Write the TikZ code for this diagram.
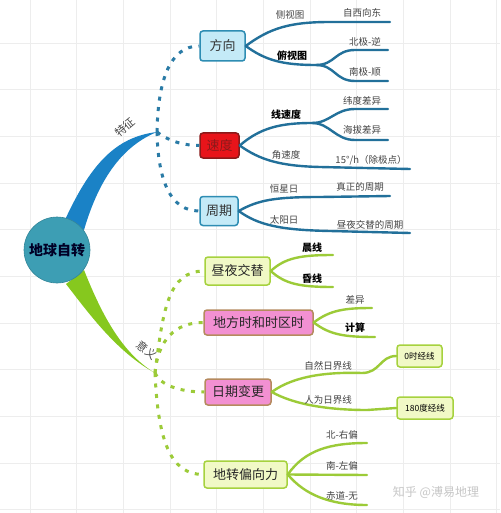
\documentclass[tikz,border=0pt]{standalone}
\usepackage{fontspec}
\setmainfont{Noto Sans CJK SC}
\definecolor{gridc}{HTML}{EDEDED}
\definecolor{bline}{HTML}{22709A}
\definecolor{bdot}{HTML}{2A7BA6}
\definecolor{bbranch}{HTML}{1A82C6}
\definecolor{gline}{HTML}{9CCB38}
\definecolor{gbranch}{HTML}{86C81E}
\definecolor{bfill}{HTML}{C4EAF7}
\definecolor{bdraw}{HTML}{2E8DB3}
\definecolor{gfill}{HTML}{F1F9C6}
\definecolor{gdraw}{HTML}{A6D23E}
\definecolor{pfill}{HTML}{F290D2}
\definecolor{pdraw}{HTML}{B58A5E}
\definecolor{rfill}{HTML}{E8141A}
\definecolor{rdraw}{HTML}{8A1A1A}
\definecolor{ctext}{HTML}{444444}
\definecolor{circf}{HTML}{3D9EB4}
\tikzset{
  gridline/.style={draw=gridc, line width=0.8pt},
  boxbase/.style={rounded corners=3pt, line width=1.5pt, inner sep=0pt, font=\fontsize{13}{13}\selectfont},
  bluebox/.style={boxbase, fill=bfill, draw=bdraw, text=black!80},
  greenbox/.style={boxbase, fill=gfill, draw=gdraw, text=black!85},
  pinkbox/.style={boxbase, fill=pfill, draw=pdraw, text=black!85},
  redbox/.style={boxbase, fill=rfill, draw=rdraw, text=rdraw},
  smallbox/.style={rounded corners=3pt, line width=1.5pt, inner sep=0pt, fill=gfill, draw=gdraw, font=\fontsize{8.5}{8.5}\selectfont},
  lbl/.style={text=ctext, inner sep=0pt, font=\fontsize{9.5}{9.5}\selectfont},
  blbl/.style={text=black, inner sep=0pt, font=\fontsize{10}{10}\selectfont\bfseries},
  bcurve/.style={draw=bline, line width=2.4pt, line cap=round},
  gcurve/.style={draw=gline, line width=2.4pt, line cap=round},
  bdots/.style={draw=bdot, line width=3pt, dash pattern=on 4pt off 6.5pt},
  gdots/.style={draw=gline, line width=3pt, dash pattern=on 4pt off 6.5pt},
}
\begin{document}
\begin{tikzpicture}[x=1pt,y=-1pt]
\useasboundingbox (0,0) rectangle (500,513);
\fill[white] (0,0) rectangle (500,513);
% grid
\foreach \i in {0,...,10} {
  \draw[gridline] ({30+46.67*\i},0) -- ({30+46.67*\i},513);
  \draw[gridline] (0,{43+46.67*\i}) -- (500,{43+46.67*\i});
}
% apex coordinates
\coordinate (tz) at (157,132);
\coordinate (yy) at (155,373);
% main branches
\fill[bbranch] (64,222) .. controls (90,165) and (115,137) .. (tz) .. controls (125,145) and (100,175) .. (84,230) -- cycle;
\fill[gbranch] (84,270) .. controls (100,310) and (120,352) .. (yy) .. controls (117,352) and (90,315) .. (66,284) -- cycle;
% center
\node[circle, minimum size=66pt, fill=circf, draw=circf!85!black, line width=0.6pt, font=\fontsize{14}{14}\selectfont\bfseries, text=black!85!blue] (root) at (57,250) {地球自转};
\node[text=ctext, inner sep=0pt, font=\fontsize{11}{11}\selectfont, rotate=40] (tzl) at (125,127) {特征};
\node[text=ctext, inner sep=0pt, font=\fontsize{11}{11}\selectfont, rotate=-40] (yyl) at (147,350) {意义};

% blue boxes
\node[bluebox, minimum width=45pt, minimum height=30pt] (fx) at (222.5,46) {方向};
\node[redbox, minimum width=39pt, minimum height=25pt] (sd) at (219.5,145.5) {速度};
\node[bluebox, minimum width=38pt, minimum height=29pt] (zq) at (219,211) {周期};
\draw[bdots] (tz) .. controls (158,80) and (170,46) .. (fx.west);
\draw[bdots] (tz) .. controls (170,142) and (185,145.5) .. (sd.west);
\draw[bdots] (tz) .. controls (158,180) and (170,211) .. (zq.west);

% green boxes
\node[greenbox, minimum width=65pt, minimum height=28pt] (zy) at (237.5,271) {昼夜交替};
\node[pinkbox, minimum width=109pt, minimum height=25pt] (df) at (258.5,322.5) {地方时和时区时};
\node[pinkbox, minimum width=66pt, minimum height=26pt] (rq) at (238,392) {日期变更};
\node[greenbox, minimum width=83pt, minimum height=27pt] (dz) at (245.5,474.5) {地转偏向力};
\draw[gdots] (yy) .. controls (163,310) and (168,271) .. (zy.west);
\draw[gdots] (yy) .. controls (158,340) and (175,322.5) .. (df.west);
\draw[gdots] (yy) .. controls (160,385) and (180,392) .. (rq.west);
\draw[gdots] (yy) .. controls (158,440) and (170,474.5) .. (dz.west);

% 方向 leaves
\coordinate (e1) at (390,22);
\coordinate (s1) at (316,65);
\coordinate (e2) at (388,50);
\coordinate (e3) at (388,81);
\draw[bcurve] (fx.east) .. controls (270,28) and (290,22) .. (330,22) -- (e1);
\draw[bcurve] (fx.east) .. controls (265,60) and (282,65) .. (s1);
\draw[bcurve] (s1) .. controls (335,65) and (335,50) .. (355,50) -- (e2);
\draw[bcurve] (s1) .. controls (335,65) and (335,81) .. (355,81) -- (e3);
\node[lbl] (l1) at (290,15) {侧视图};
\node[lbl] (l2) at (362,13) {自西向东};
\node[blbl] (l3) at (292,56) {俯视图};
\node[lbl] (l4) at (365,42) {北极-逆};
\node[lbl] (l5) at (365,72) {南极-顺};

% 速度 leaves
\coordinate (s2) at (312,123);
\coordinate (e4) at (388,109);
\coordinate (e5) at (388,140);
\coordinate (e6) at (410,169);
\draw[bcurve] (sd.east) .. controls (260,128) and (280,123) .. (s2);
\draw[bcurve] (s2) .. controls (330,123) and (335,109) .. (355,109) -- (e4);
\draw[bcurve] (s2) .. controls (330,123) and (335,140) .. (355,140) -- (e5);
\draw[bcurve] (sd.east) .. controls (260,160) and (280,166) .. (320,167) -- (e6);
\node[blbl] (l6) at (286,115) {线速度};
\node[lbl] (l7) at (362,101) {纬度差异};
\node[lbl] (l8) at (362,130) {海拔差异};
\node[lbl] (l9) at (286,155) {角速度};
\node[lbl] (l10) at (371,160) {15°/h（除极点）};

% 周期 leaves
\coordinate (e7) at (390,196);
\coordinate (e8) at (410,233);
\draw[bcurve] (zq.east) .. controls (258,200) and (275,197) .. (320,197) -- (e7);
\draw[bcurve] (zq.east) .. controls (258,225) and (280,230) .. (330,231) -- (e8);
\node[lbl] (l11) at (284,189) {恒星日};
\node[lbl] (l12) at (360,187) {真正的周期};
\node[lbl] (l13) at (284,220) {太阳日};
\node[lbl] (l14) at (370,225) {昼夜交替的周期};

% 昼夜交替 leaves
\coordinate (e9) at (333,255);
\coordinate (e10) at (333,287);
\draw[gcurve] (zy.east) .. controls (285,258) and (300,255) .. (e9);
\draw[gcurve] (zy.east) .. controls (285,284) and (300,287) .. (e10);
\node[blbl] (l15) at (312,248) {晨线};
\node[blbl] (l16) at (312,279) {昏线};

% 地方时 leaves
\coordinate (e11) at (372,308);
\coordinate (e12) at (375,337);
\draw[gcurve] (df.east) .. controls (330,310) and (345,308) .. (e11);
\draw[gcurve] (df.east) .. controls (330,335) and (345,337) .. (e12);
\node[lbl] (l17) at (355,300) {差异};
\node[blbl] (l18) at (355,328) {计算};

% 日期变更 leaves
\node[smallbox, minimum width=45pt, minimum height=22pt] (b0) at (419.5,356) {0时经线};
\node[smallbox, minimum width=56pt, minimum height=22pt] (b180) at (425,408) {180度经线};
\draw[gcurve] (rq.east) .. controls (295,375) and (330,372) .. (362,373) .. controls (380,373) and (380,356) .. (b0.west);
\draw[gcurve] (rq.east) .. controls (295,405) and (330,410) .. (367,410) -- (b180.west);
\node[lbl] (l19) at (328,366) {自然日界线};
\node[lbl] (l20) at (328,400) {人为日界线};

% 地转偏向力 leaves
\coordinate (e13) at (367,443);
\coordinate (e14) at (367,475);
\coordinate (e15) at (367,505);
\draw[gcurve] (dz.east) .. controls (305,450) and (330,443) .. (e13);
\draw[gcurve] (dz.east) -- (e14);
\draw[gcurve] (dz.east) .. controls (305,495) and (330,505) .. (e15);
\node[lbl] (l21) at (342,435) {北-右偏};
\node[lbl] (l22) at (342,466) {南-左偏};
\node[lbl] (l23) at (342,496) {赤道-无};

% watermark
\node[text=black!22, inner sep=0pt, font=\fontsize{12}{12}\selectfont] (wm) at (436,492) {知乎 @溥易地理};
\end{tikzpicture}
\end{document}
